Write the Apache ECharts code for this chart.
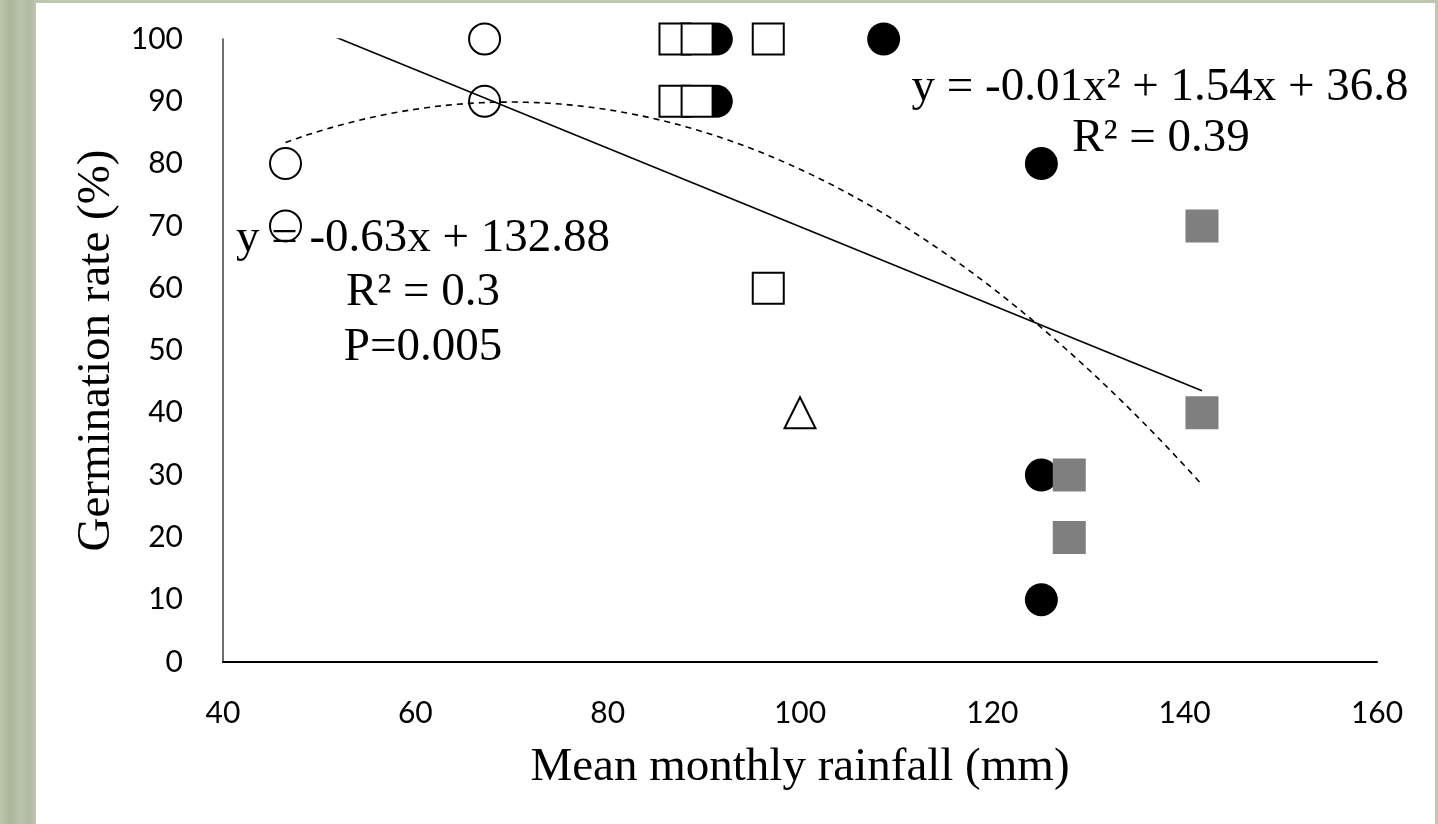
<!DOCTYPE html>
<html>
<head>
<meta charset="utf-8">
<script src="https://cdn.jsdelivr.net/npm/echarts@6/dist/echarts.min.js"></script>
<style>
  html, body { margin: 0; padding: 0; width: 1438px; height: 824px; overflow: hidden; }
  body {
    background:
      linear-gradient(90deg, rgba(200,205,185,0.6) 0px, rgba(165,178,150,0.7) 10px, rgba(190,198,175,0.6) 20px, rgba(175,185,160,0.7) 30px, rgba(200,205,185,0.6) 36px),
      #b4bea2;
  }
  #panel { position: absolute; left: 36px; top: 3px; width: 1399px; height: 821px; background: #ffffff; }
  #chart { position: absolute; left: 0; top: 0; width: 1438px; height: 824px; }
</style>
</head>
<body>
<div id="panel"></div>
<div id="chart"></div>
<script>
// ---- data ----
const openCircleX   = [46.5, 46.5, 67.2, 67.2];
const openCircleY   = [80, 70, 100, 90];
const openSquareX   = [87.0, 89.3, 87.0, 89.3, 96.7, 96.7];
const openSquareY   = [100, 100, 90, 90, 100, 60];
const triangleX     = [100.0];
const triangleY     = [40];
const filledCircleX = [91.3, 91.3, 108.7, 125.1, 125.1, 125.1];
const filledCircleY = [100, 90, 100, 80, 30, 10];
const graySquareX   = [141.8, 141.8, 128.0, 128.0];
const graySquareY   = [70, 40, 30, 20];

const xTicks = [40, 60, 80, 100, 120, 140, 160];
const yTicks = [0, 10, 20, 30, 40, 50, 60, 70, 80, 90, 100];

// linear trend coefficients as printed on the chart
const linSlope = -0.63;
const linIntercept = 132.88;

const linText  = ['y = -0.63x + 132.88', 'R² = 0.3', 'P=0.005'];
const quadText = ['y = -0.01x² + 1.54x + 36.8', 'R² = 0.39'];

function zip(xs, ys) { return xs.map((x, i) => [x, ys[i]]); }

const allX = [].concat(openCircleX, openSquareX, triangleX, filledCircleX, graySquareX);
const allY = [].concat(openCircleY, openSquareY, triangleY, filledCircleY, graySquareY);
const xMin = Math.min.apply(null, allX);
const xMax = Math.max.apply(null, allX);

// least squares quadratic fit of all points
function quadFit(xs, ys) {
  let s0 = xs.length, s1 = 0, s2 = 0, s3 = 0, s4 = 0, t0 = 0, t1 = 0, t2 = 0;
  for (let i = 0; i < xs.length; i++) {
    const x = xs[i], y = ys[i];
    s1 += x; s2 += x * x; s3 += x * x * x; s4 += x * x * x * x;
    t0 += y; t1 += x * y; t2 += x * x * y;
  }
  const M = [[s4, s3, s2, t2], [s3, s2, s1, t1], [s2, s1, s0, t0]];
  for (let c = 0; c < 3; c++) {
    for (let r = c + 1; r < 3; r++) {
      const f = M[r][c] / M[c][c];
      for (let k = c; k < 4; k++) M[r][k] -= f * M[c][k];
    }
  }
  const sol = [0, 0, 0];
  for (let r = 2; r >= 0; r--) {
    let v = M[r][3];
    for (let k = r + 1; k < 3; k++) v -= M[r][k] * sol[k];
    sol[r] = v / M[r][r];
  }
  return sol; // a, b, c
}
const q = quadFit(allX, allY);

const linLine = [xMin, xMax].map(x => [x, linSlope * x + linIntercept]);
const quadLine = [];
const steps = 80;
for (let i = 0; i <= steps; i++) {
  const x = xMin + (xMax - xMin) * i / steps;
  quadLine.push([x, q[0] * x * x + q[1] * x + q[2]]);
}

const chart = echarts.init(document.getElementById('chart'), null, { renderer: 'canvas' });
const serif = '"Liberation Serif", "Times New Roman", serif';
const sans = 'Lato, "Open Sans", sans-serif';
const SYM = 31;

function txt(s, x, y) {
  return { type: 'text', z: 10, position: [x, y],
    style: { text: s, fontFamily: serif, fontSize: 47, fill: '#000', textAlign: 'center', textVerticalAlign: 'middle' } };
}

chart.setOption({
  backgroundColor: 'transparent',
  animation: false,
  grid: { left: 223, right: 61, top: 39, bottom: 162, containLabel: false },
  xAxis: {
    type: 'value', min: 40, max: 160, interval: 20,
    name: 'Mean monthly rainfall (mm)', nameLocation: 'middle', nameGap: 82,
    nameTextStyle: { fontFamily: serif, fontSize: 47, color: '#000' },
    axisLine: { show: true, onZero: false, lineStyle: { color: '#000', width: 2 } },
    axisTick: { show: false },
    splitLine: { show: false },
    axisLabel: { fontFamily: sans, fontSize: 30, color: '#000', margin: 36,
      formatter: v => xTicks.indexOf(v) >= 0 ? String(v) : '' }
  },
  yAxis: {
    type: 'value', min: 0, max: 100, interval: 10,
    name: 'Germination rate (%)', nameLocation: 'middle', nameGap: 92,
    nameTextStyle: { fontFamily: serif, fontSize: 47, color: '#000' },
    axisLine: { show: true, onZero: false, lineStyle: { color: '#404040', width: 1.5 } },
    axisTick: { show: false },
    splitLine: { show: false },
    axisLabel: { fontFamily: sans, fontSize: 30, color: '#000', margin: 40,
      formatter: v => yTicks.indexOf(v) >= 0 ? String(v) : '' }
  },
  series: [
    { type: 'scatter', name: 'filled circles', data: zip(filledCircleX, filledCircleY),
      symbol: 'circle', symbolSize: 33, z: 2,
      itemStyle: { color: '#000', borderWidth: 0, opacity: 1 } },
    { type: 'scatter', name: 'open squares', data: zip(openSquareX, openSquareY),
      symbol: 'rect', symbolSize: SYM, z: 3,
      itemStyle: { color: '#fff', borderColor: '#000', borderWidth: 2, opacity: 1 } },
    { type: 'scatter', name: 'gray squares', data: zip(graySquareX, graySquareY),
      symbol: 'rect', symbolSize: 33, z: 3,
      itemStyle: { color: '#7f7f7f', borderWidth: 0, opacity: 1 } },
    { type: 'scatter', name: 'open circles', data: zip(openCircleX, openCircleY),
      symbol: 'circle', symbolSize: SYM, z: 3,
      itemStyle: { color: '#fff', borderColor: '#000', borderWidth: 2, opacity: 1 } },
    { type: 'scatter', name: 'triangle', data: zip(triangleX, triangleY),
      symbol: 'triangle', symbolSize: SYM, z: 3,
      itemStyle: { color: '#fff', borderColor: '#000', borderWidth: 2, opacity: 1 } },
    { type: 'line', name: 'linear', data: linLine, showSymbol: false, symbol: 'none', z: 5,
      clip: true, lineStyle: { color: '#000', width: 1.6 } },
    { type: 'line', name: 'quadratic', data: quadLine, showSymbol: false, symbol: 'none', z: 5,
      smooth: false, clip: true, lineStyle: { color: '#000', width: 1.6, type: [6, 5] } }
  ],
  graphic: [
    txt(linText[0], 423, 239),
    txt(linText[1], 423, 293),
    txt(linText[2], 423, 348),
    txt(quadText[0], 1160, 88),
    txt(quadText[1], 1161, 139)
  ]
});
</script>
</body>
</html>
